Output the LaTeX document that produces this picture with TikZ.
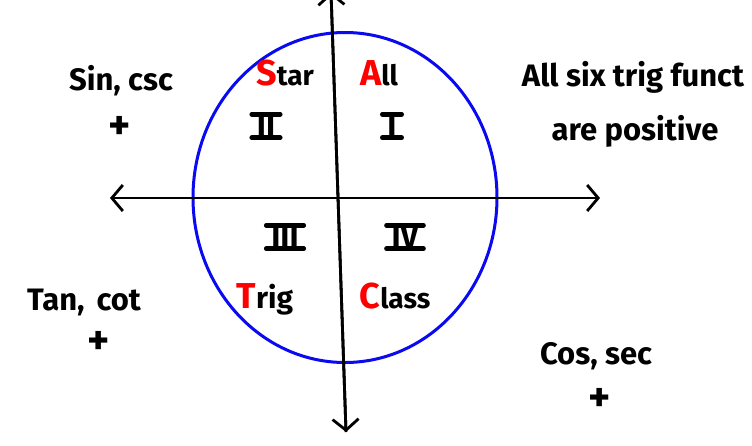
\documentclass[tikz,border=0pt]{standalone}
\usepackage{fontspec}
\setmainfont{Fira Sans}
\usetikzlibrary{arrows.meta}
\definecolor{circblue}{RGB}{10,10,240}
\definecolor{letred}{RGB}{255,0,0}
\tikzset{
  barb/.tip={Straight Barb[length=11pt,width=26pt,line width=2.8pt]},
  axis/.style={line width=2.8pt, black, -barb},
  axis2/.style={line width=2.8pt, black, barb-barb},
  hand/.style={font=\fontsize{31}{34}\selectfont\bfseries, inner sep=0pt, anchor=base},
  quad/.style={font=\fontsize{28}{30}\selectfont\bfseries, inner sep=0pt, anchor=base},
  roman/.style={font=\fontsize{31}{32}\selectfont\bfseries, inner xsep=5pt, inner ysep=1pt, text height=21pt, text depth=0pt, anchor=center},
  romanbar/.style={line width=4.5pt, line cap=round},
  plus/.style={font=\fontsize{42}{44}\selectfont\bfseries, inner sep=0pt},
  ringstyle/.style={draw=circblue, line width=3pt}
}
\newcommand{\redcap}[1]{\textcolor{letred}{\fontsize{36}{38}\selectfont #1}}
\begin{document}
\begin{tikzpicture}[x=1pt,y=-1pt]
\useasboundingbox (0,0) rectangle (752,445);
\fill[white] (0,0) rectangle (752,445);
% circle
\draw[ringstyle] (345,197.5) ellipse [x radius=152, y radius=165];
% axes
\coordinate (left) at (110,198);
\coordinate (right) at (600,198);
\coordinate (top) at (331,-8);
\coordinate (bottom) at (346,432);
\draw[axis2] (left) -- (right);
\draw[axis] (bottom) -- (top);
\draw[axis] (top) -- (bottom);
% quadrant words
\node[quad] (star) at (285,85) {\redcap{S}tar};
\node[quad] (all) at (379,85) {\redcap{A}ll};
\node[quad] (trig) at (265,308) {\fontsize{30}{32}\selectfont\redcap{T}rig};
\node[quad] (class) at (395,308) {\redcap{C}lass};
% roman numerals
\node[roman] (q2) at (266,126) {II};
\node[roman] (q1) at (392,126) {I};
\node[roman] (q3) at (285,237) {III};
\node[roman] (q4) at (405,237) {IV};
\foreach \q in {q1,q2,q3,q4}{
  \draw[romanbar] (\q.north west) -- (\q.north east);
  \draw[romanbar] (\q.south west) -- (\q.south east);
}
% side notes
\node[hand] (sincsc) at (121,90) {Sin, csc};
\node[plus] (p2) at (120,128) {+};
\node[hand] (alltxt) at (633,86) {All six trig funct};
\node[hand] (pos) at (635,140) {are positive};
\node[hand] (tancot) at (84,310) {Tan,\hspace{12pt}cot};
\node[plus] (p3) at (99,343) {+};
\node[hand] (cossec) at (596,364) {Cos, sec};
\node[plus] (p4) at (600,400) {+};
\end{tikzpicture}
\end{document}
